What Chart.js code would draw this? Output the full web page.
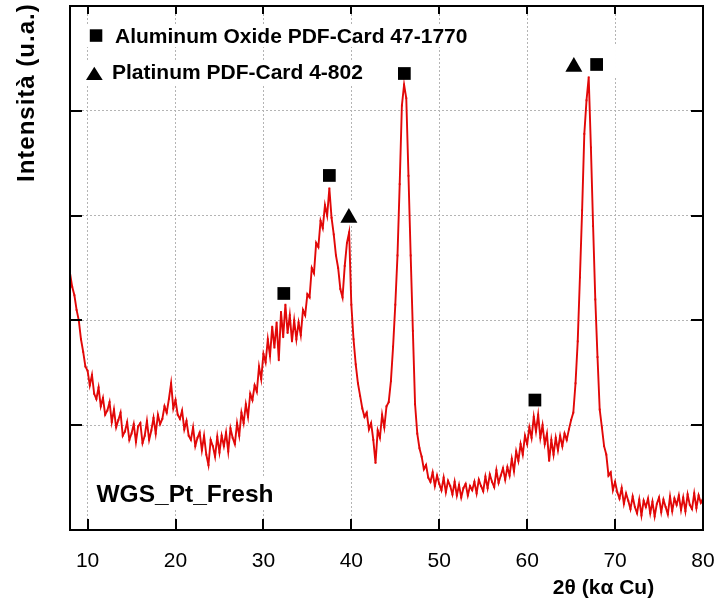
<!DOCTYPE html>
<html>
<head>
<meta charset="utf-8">
<script src="https://cdn.jsdelivr.net/npm/chart.js@4.4.1/dist/chart.umd.min.js"></script>
<style>
html,body{margin:0;padding:0;background:#fff;}
#wrap{width:715px;height:601px;position:relative;}
</style>
</head>
<body>
<div id="wrap"><canvas id="c" width="715" height="601"></canvas></div>
<script>
// ---- data ----
const angleStart = 8;      // first 2theta sample (deg)
const angleStep = 0.25;    // sampling step (deg)

// intensity, arbitrary units, 8.00 .. 27.75 deg
const intensity08to28 = [
  2.45, 2.32, 2.24, 2.10, 2.00, 1.82, 1.70, 1.56, 1.52, 1.38, 1.48, 1.30, 1.25, 1.36, 1.18, 1.26, 1.10, 1.14, 1.22, 1.03,
  1.15, 0.98, 1.05, 1.12, 0.90, 0.94, 1.03, 0.86, 0.92, 1.01, 0.84, 0.99, 1.02, 0.83, 0.90, 1.04, 0.86, 0.95, 1.07, 0.92,
  1.10, 1.01, 1.06, 1.18, 1.12, 1.25, 1.40, 1.16, 1.24, 1.10, 1.06, 1.14, 0.96, 1.04, 0.90, 0.86, 0.98, 0.80, 0.88, 0.93,
  0.76, 0.90, 0.72, 0.62, 0.86, 0.80, 0.70, 0.89, 0.74, 0.90, 0.80, 0.93, 0.75, 0.97, 0.88, 0.82, 1.02, 0.90, 1.12, 1.02
];
// 28.00 .. 47.75 deg
const intensity28to48 = [
  1.20, 1.08, 1.30, 1.24, 1.38, 1.32, 1.56, 1.44, 1.68, 1.60, 1.82, 1.66, 1.94, 1.74, 1.98, 1.62, 2.08, 1.84, 2.15, 1.88,
  2.05, 1.80, 2.00, 1.82, 1.98, 1.86, 2.10, 2.05, 2.25, 2.22, 2.50, 2.45, 2.74, 2.70, 2.95, 2.88, 3.10, 3.00, 3.26, 2.98,
  2.82, 2.62, 2.50, 2.30, 2.22, 2.52, 2.74, 2.84, 2.15, 1.82, 1.58, 1.40, 1.28, 1.16, 1.08, 1.12, 0.96, 1.02, 0.86, 0.64,
  0.95, 0.88, 1.10, 0.98, 1.18, 1.22, 1.42, 1.75, 2.15, 2.62, 3.30, 4.05, 4.25, 4.12, 3.38, 2.62, 1.90, 1.20, 0.92, 0.78
];
// 48.00 .. 67.75 deg
const intensity48to68 = [
  0.70, 0.58, 0.62, 0.50, 0.46, 0.55, 0.42, 0.52, 0.44, 0.38, 0.50, 0.36, 0.47, 0.42, 0.34, 0.46, 0.33, 0.43, 0.31, 0.40,
  0.44, 0.33, 0.42, 0.38, 0.46, 0.35, 0.48, 0.42, 0.37, 0.51, 0.40, 0.53, 0.46, 0.41, 0.57, 0.45, 0.52, 0.59, 0.48, 0.60,
  0.52, 0.68, 0.56, 0.75, 0.66, 0.82, 0.72, 0.90, 0.82, 0.98, 0.88, 1.08, 0.94, 1.10, 0.88, 1.00, 0.82, 0.92, 0.66, 0.86,
  0.72, 0.88, 0.76, 0.90, 0.80, 0.92, 0.86, 0.96, 1.05, 1.12, 1.40, 1.80, 2.41, 3.05, 3.78, 4.10, 4.32, 3.65, 2.90, 2.20
];
// 68.00 .. 80.00 deg
const intensity68to80 = [
  1.65, 1.15, 0.98, 0.80, 0.72, 0.52, 0.55, 0.38, 0.46, 0.36, 0.30, 0.40, 0.25, 0.35, 0.28, 0.20, 0.32, 0.22, 0.16, 0.29,
  0.14, 0.28, 0.22, 0.30, 0.16, 0.27, 0.13, 0.25, 0.31, 0.17, 0.29, 0.22, 0.15, 0.32, 0.18, 0.30, 0.24, 0.33, 0.19, 0.31,
  0.18, 0.34, 0.24, 0.20, 0.35, 0.21, 0.33, 0.26, 0.30
];

// reference-card peak markers (position, marker height)
const aluminaAngles = [32.32, 37.50, 46.03, 60.88, 67.90];
const aluminaLevels = [2.257, 3.383, 4.356, 1.240, 4.442];
const platinumAngles = [39.72, 65.31];
const platinumLevels = [2.979, 4.420];

// axes
const xMin = 8, xMax = 80;
const yMin = 0, yMax = 5;
const xTickValues = [10, 20, 30, 40, 50, 60, 70, 80];
const yGridValues = [1, 2, 3, 4];

// texts
const legendLabels = ['Aluminum Oxide PDF-Card 47-1770', 'Platinum PDF-Card 4-802'];
const sampleLabel = 'WGS_Pt_Fresh';
const xTitle = '2\u03B8 (k\u03B1 Cu)';
const yTitle = 'Intensit\u00E0 (u.a.)';

// ---- build ----
const intensity = [].concat(intensity08to28, intensity28to48, intensity48to68, intensity68to80);
const pattern = intensity.map((v, i) => ({ x: angleStart + i * angleStep, y: v }));
const aluminaPts = aluminaAngles.map((a, i) => ({ x: a, y: aluminaLevels[i] }));
const platinumPts = platinumAngles.map((a, i) => ({ x: a, y: platinumLevels[i] }));

const FONT = "'Liberation Sans', Arial, Helvetica, sans-serif";
const RED = '#e20808';
const SQ_R = 9.0, TRI_R = 9.8;

const overlay = {
  id: 'overlay',
  beforeDatasetsDraw(chart) {
    const ctx = chart.ctx, ca = chart.chartArea;
    const xs = chart.scales.x, ys = chart.scales.y;
    ctx.save();
    ctx.fillStyle = '#fff';
    // white boxes behind legend lines
    ctx.font = 'bold 21px ' + FONT;
    const w1 = ctx.measureText(legendLabels[0]).width;
    const w2 = ctx.measureText(legendLabels[1]).width;
    ctx.fillRect(ca.left + 14, ca.top + 18, 115 - 84 + w1 + 6, 23);
    ctx.fillRect(ca.left + 14, ca.top + 56, 112 - 84 + w2 + 6, 22);
    ctx.font = 'bold 24.5px ' + FONT;
    const w3 = ctx.measureText(sampleLabel).width;
    ctx.fillRect(ca.left + 24, ca.top + 472, w3 + 8, 30);
    // white boxes behind peak markers
    const h = SQ_R * Math.SQRT1_2;
    aluminaPts.forEach(p => {
      const px = xs.getPixelForValue(p.x), py = ys.getPixelForValue(p.y);
      ctx.fillRect(px - h - 3, py - h - 14, 2 * h + 16, 2 * h + 21);
    });
    platinumPts.forEach(p => {
      const px = xs.getPixelForValue(p.x), py = ys.getPixelForValue(p.y);
      const hw = TRI_R * 0.866;
      ctx.fillRect(px - hw - 2, py - TRI_R - 6, 2 * hw + 6, 1.5 * TRI_R + 9);
    });
    ctx.restore();
  },
  afterDraw(chart) {
    const ctx = chart.ctx, ca = chart.chartArea;
    const xs = chart.scales.x, ys = chart.scales.y;
    ctx.save();
    // inward tick marks
    ctx.strokeStyle = '#000';
    ctx.lineWidth = 2;
    ctx.beginPath();
    xTickValues.forEach(v => {
      if (v >= xMax) return;
      const px = Math.round(xs.getPixelForValue(v));
      ctx.moveTo(px, ca.bottom); ctx.lineTo(px, ca.bottom - 11);
      ctx.moveTo(px, ca.top); ctx.lineTo(px, ca.top + 8);
    });
    yGridValues.forEach(v => {
      const py = Math.round(ys.getPixelForValue(v));
      ctx.moveTo(ca.left, py); ctx.lineTo(ca.left + 12, py);
      ctx.moveTo(ca.right, py); ctx.lineTo(ca.right - 12, py);
    });
    ctx.stroke();
    // frame
    ctx.lineWidth = 2;
    ctx.strokeRect(ca.left, ca.top, ca.right - ca.left, ca.bottom - ca.top);

    // legend symbols
    const L = ca.left, T = ca.top;
    ctx.fillStyle = '#000';
    ctx.fillRect(L + 19.8, T + 23.3, 12.5, 12.5);
    ctx.beginPath();
    ctx.moveTo(L + 24.3, T + 60.7);
    ctx.lineTo(L + 32.7, T + 74);
    ctx.lineTo(L + 16, T + 74);
    ctx.closePath();
    ctx.fill();

    // legend texts
    ctx.textAlign = 'left';
    ctx.textBaseline = 'alphabetic';
    ctx.font = 'bold 21px ' + FONT;
    ctx.fillText(legendLabels[0], L + 45, T + 37.3);
    ctx.fillText(legendLabels[1], L + 42, T + 73.3);

    // sample label
    ctx.font = 'bold 24.5px ' + FONT;
    ctx.fillText(sampleLabel, L + 26.5, T + 495.7);

    // x title
    ctx.font = 'bold 21px ' + FONT;
    ctx.textAlign = 'center';
    ctx.fillText(xTitle, 603.5, 594);

    // y title
    ctx.translate(34, 182);
    ctx.rotate(-Math.PI / 2);
    ctx.textAlign = 'left';
    ctx.font = 'bold 24px ' + FONT;
    try { ctx.letterSpacing = '1px'; } catch (e) {}
    ctx.fillText(yTitle, 0, 0);
    ctx.restore();
  }
};

new Chart(document.getElementById('c'), {
  data: {
    datasets: [
      {
        type: 'line',
        data: pattern,
        borderColor: RED,
        backgroundColor: RED,
        borderWidth: 1.9,
        pointRadius: 1.3,
        pointStyle: 'rect',
        pointBorderWidth: 0,
        pointBackgroundColor: RED,
        tension: 0,
        fill: false,
        order: 2
      },
      {
        type: 'scatter',
        data: aluminaPts,
        pointStyle: 'rect',
        pointRadius: SQ_R,
        pointBorderWidth: 0,
        pointBackgroundColor: '#000',
        borderWidth: 0,
        order: 1
      },
      {
        type: 'scatter',
        data: platinumPts,
        pointStyle: 'triangle',
        pointRadius: TRI_R,
        pointBorderWidth: 0,
        pointBackgroundColor: '#000',
        borderWidth: 0,
        order: 1
      }
    ]
  },
  options: {
    responsive: false,
    animation: false,
    events: [],
    layout: { autoPadding: false, padding: { top: 6, right: 12, left: 0, bottom: 0 } },
    plugins: { legend: { display: false }, tooltip: { enabled: false }, title: { display: false } },
    scales: {
      x: {
        type: 'linear',
        position: 'bottom',
        min: xMin, max: xMax,
        afterBuildTicks: s => { s.ticks = xTickValues.map(v => ({ value: v })); },
        afterFit: s => { s.height = 71; s.paddingLeft = 0; s.paddingRight = 0; s.paddingTop = 0; s.paddingBottom = 0; },
        grid: { color: '#b4b4b4', lineWidth: 1, drawTicks: false },
        border: { display: false, dash: [2, 2] },
        ticks: { color: '#000', font: { family: FONT, size: 21 }, padding: 19, maxRotation: 0, autoSkip: false }
      },
      y: {
        type: 'linear',
        min: yMin, max: yMax,
        afterBuildTicks: s => { s.ticks = yGridValues.map(v => ({ value: v })); },
        afterFit: s => { s.width = 70; s.paddingLeft = 0; s.paddingRight = 0; s.paddingTop = 0; s.paddingBottom = 0; },
        grid: { color: '#b4b4b4', lineWidth: 1, drawTicks: false },
        border: { display: false, dash: [2, 2] },
        ticks: { display: false }
      }
    }
  },
  plugins: [overlay]
});
</script>
</body>
</html>
